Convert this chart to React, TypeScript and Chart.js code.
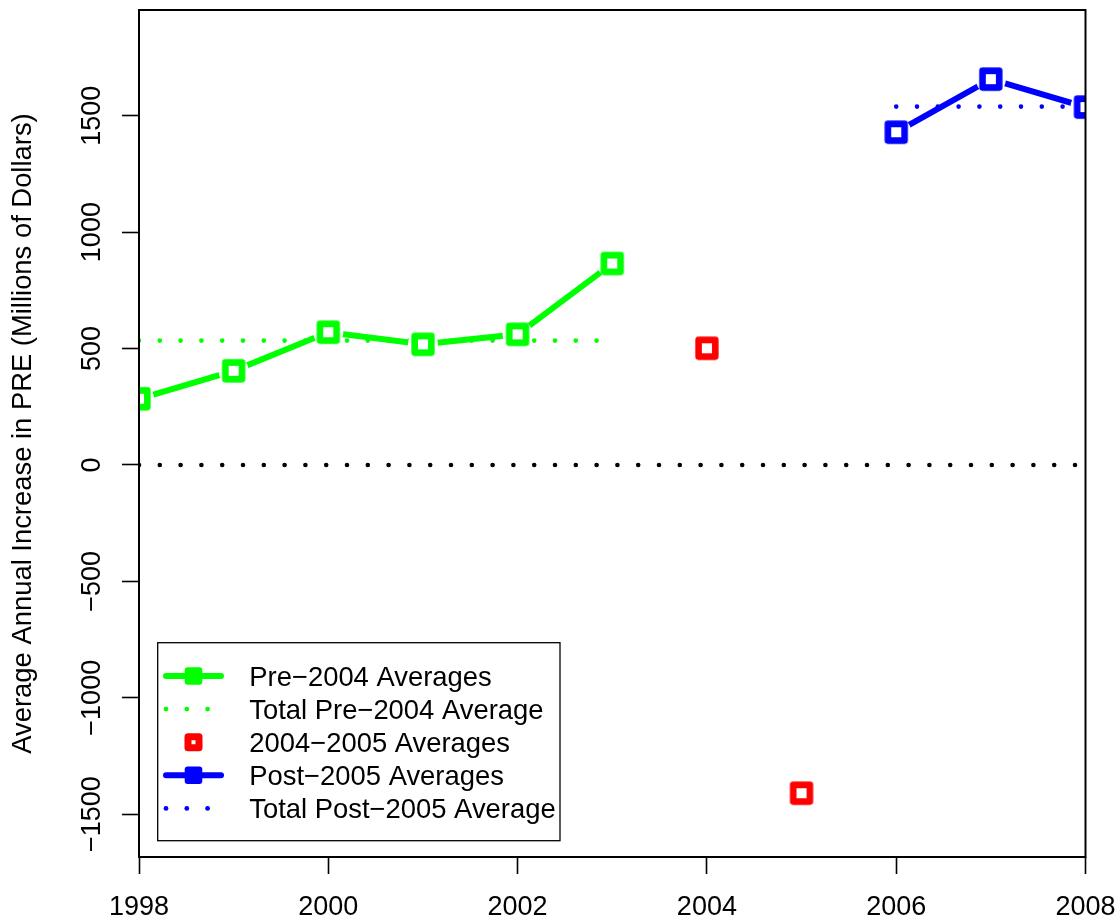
import React, { useEffect, useRef } from "react";
import { Chart, registerables } from "chart.js";

Chart.register(...registerables);

// ---------------- data ----------------
const preYears = [1998, 1999, 2000, 2001, 2002, 2003];
const preValues = [284, 404, 570, 518, 561, 865];
const midYears = [2004, 2005];
const midValues = [501, -1410];
const postYears = [2006, 2007, 2008];
const postValues = [1429, 1657, 1537];
const preAverage = 534;
const postAverage = 1539;
const preAvgSpan = [1998, 2003];
const postAvgSpan = [2006, 2008];
const zeroSpan = [1998, 2008];

const xTickValues = [1998, 2000, 2002, 2004, 2006, 2008];
const yTickValues = [-1500, -1000, -500, 0, 500, 1000, 1500];
const yTickLabels = ["\u22121500", "\u22121000", "\u2212500", "0", "500", "1000", "1500"];
const yTitle = "Average Annual Increase in PRE (Millions of Dollars)";
const legendLabels = [
  "Pre\u22122004 Averages",
  "Total Pre\u22122004 Average",
  "2004\u22122005 Averages",
  "Post\u22122005 Averages",
  "Total Post\u22122005 Average",
];

const GREEN = "#00ff00";
const RED = "#ff0000";
const BLUE = "#0000ff";
const FONT = "'Liberation Sans', Arial, Helvetica, sans-serif";

function pts(xs: number[], ys: number[]) {
  return xs.map((x, i) => ({ x, y: ys[i] }));
}

function makeSquare(color: string): HTMLCanvasElement {
  const c = document.createElement("canvas");
  c.width = 26;
  c.height = 26;
  const g = c.getContext("2d")!;
  g.fillStyle = "#ffffff";
  g.fillRect(5, 5, 16, 16);
  g.strokeStyle = color;
  g.lineWidth = 6.6;
  g.lineJoin = "round";
  g.strokeRect(13 - 8.35, 13 - 8.35, 16.7, 16.7);
  return c;
}

const zeroPad = (s: any) => {
  s.paddingLeft = 0;
  s.paddingRight = 0;
  s.paddingTop = 0;
  s.paddingBottom = 0;
};

const overlayPlugin = {
  id: "overlay",
  afterDraw(chart: any) {
    const { ctx, chartArea: a, scales } = chart;
    ctx.save();
    // plot box
    ctx.strokeStyle = "#000";
    ctx.lineWidth = 2;
    ctx.strokeRect(a.left, a.top, a.right - a.left, a.bottom - a.top);

    // rotated y tick labels
    ctx.fillStyle = "#000";
    ctx.font = `27px ${FONT}`;
    ctx.textAlign = "center";
    ctx.textBaseline = "alphabetic";
    yTickValues.forEach((v, i) => {
      const py = scales.y.getPixelForValue(v);
      ctx.save();
      ctx.translate(a.left - 39.5, py);
      ctx.rotate(-Math.PI / 2);
      ctx.fillText(yTickLabels[i], 0, 0);
      ctx.restore();
    });

    // legend
    const bx = 157.7, by = 642.7, bw = 560 - 157.7, bh = 840.7 - 642.7;
    ctx.fillStyle = "#fff";
    ctx.fillRect(bx, by, bw, bh);
    ctx.strokeStyle = "#000";
    ctx.lineWidth = 1.3;
    ctx.strokeRect(bx, by, bw, bh);

    const rows = legendLabels.map((_, i) => 676 + i * 33.1);
    const symX = 193.5;
    const drawLineSym = (y: number, color: string) => {
      ctx.strokeStyle = color;
      ctx.lineWidth = 6;
      ctx.lineCap = "round";
      ctx.beginPath();
      ctx.moveTo(166, y);
      ctx.lineTo(221, y);
      ctx.stroke();
      ctx.fillStyle = color;
      ctx.beginPath();
      if ((ctx as any).roundRect) (ctx as any).roundRect(symX - 8.8, y - 8.8, 17.6, 17.6, 3);
      else ctx.rect(symX - 8.8, y - 8.8, 17.6, 17.6);
      ctx.fill();
    };
    const drawDots = (y: number, color: string) => {
      ctx.fillStyle = color;
      [166, 186.8, 207.6].forEach((dx) => {
        ctx.beginPath();
        ctx.arc(dx, y, 2.4, 0, Math.PI * 2);
        ctx.fill();
      });
    };
    drawLineSym(rows[0], GREEN);
    drawDots(rows[1], GREEN);
    ctx.strokeStyle = RED;
    ctx.lineWidth = 7;
    ctx.lineJoin = "round";
    ctx.strokeRect(symX - 5.5, rows[2] - 5.5, 11, 11);
    drawLineSym(rows[3], BLUE);
    drawDots(rows[4], BLUE);

    ctx.fillStyle = "#000";
    ctx.font = `27.4px ${FONT}`;
    ctx.textAlign = "left";
    ctx.textBaseline = "alphabetic";
    legendLabels.forEach((t, i) => ctx.fillText(t, 249.3, rows[i] + 9.8));
    ctx.restore();
  },
};

export default function App() {
  const ref = useRef<HTMLCanvasElement | null>(null);

  useEffect(() => {
    if (!ref.current) return;
    const greenSq = makeSquare(GREEN);
    const redSq = makeSquare(RED);
    const blueSq = makeSquare(BLUE);

    const dotted = (data: any[], color: string) => ({
      data,
      borderColor: color,
      borderWidth: 4.6,
      borderDash: [0.01, 20.79],
      borderCapStyle: "round",
      pointRadius: 0,
      showLine: true,
      fill: false,
      clip: 0,
      order: 12,
    });

    const chart = new Chart(ref.current, {
      type: "line",
      data: {
        datasets: [
          // markers (top)
          { data: pts(preYears, preValues), showLine: false, pointStyle: greenSq, pointRadius: 12, clip: 0, order: 2 },
          { data: pts(midYears, midValues), showLine: false, pointStyle: redSq, pointRadius: 12, clip: 0, order: 2 },
          { data: pts(postYears, postValues), showLine: false, pointStyle: blueSq, pointRadius: 12, clip: 0, order: 2 },
          // gaps around markers (type "b")
          {
            data: [...pts(preYears, preValues), ...pts(postYears, postValues)],
            showLine: false,
            pointStyle: "circle",
            pointRadius: 15,
            pointBorderWidth: 0,
            pointBackgroundColor: "#ffffff",
            pointBorderColor: "#ffffff",
            clip: 0,
            order: 8,
          },
          // connecting lines
          { data: pts(preYears, preValues), borderColor: GREEN, borderWidth: 6, pointRadius: 0, clip: 0, order: 10 },
          { data: pts(postYears, postValues), borderColor: BLUE, borderWidth: 6, pointRadius: 0, clip: 0, order: 10 },
          // dotted reference lines
          dotted(preAvgSpan.map((x) => ({ x, y: preAverage })), GREEN),
          dotted(postAvgSpan.map((x) => ({ x, y: postAverage })), BLUE),
          dotted(zeroSpan.map((x) => ({ x, y: 0 })), "#000000"),
        ] as any,
      },
      options: {
        responsive: false,
        devicePixelRatio: 1,
        animation: false,
        events: [],
        layout: { autoPadding: false, padding: { left: 0, top: 10, right: 34.5, bottom: 0 } },
        plugins: { legend: { display: false }, tooltip: { enabled: false } },
        scales: {
          x: {
            type: "linear",
            position: "bottom",
            min: 1998,
            max: 2008,
            afterBuildTicks: (s: any) => {
              s.ticks = xTickValues.map((v) => ({ value: v }));
            },
            afterFit: (s: any) => {
              s.height = 67;
              zeroPad(s);
            },
            ticks: {
              callback: (v: any) => String(v),
              font: { family: FONT, size: 27 },
              color: "#000",
              padding: 17,
              maxRotation: 0,
              minRotation: 0,
              autoSkip: false,
            },
            grid: { drawOnChartArea: false, drawTicks: true, tickLength: 17, tickColor: "#000", tickWidth: 1.6, color: "#000" },
            border: { display: false },
          },
          y: {
            type: "linear",
            position: "left",
            min: -1684,
            max: 1954,
            afterBuildTicks: (s: any) => {
              s.ticks = yTickValues.map((v) => ({ value: v }));
            },
            afterFit: (s: any) => {
              s.width = 139;
              zeroPad(s);
            },
            ticks: { display: false },
            grid: { drawOnChartArea: false, drawTicks: true, tickLength: 17, tickColor: "#000", tickWidth: 1.6, color: "#000" },
            border: { display: false },
            title: {
              display: true,
              text: yTitle,
              color: "#000",
              font: { family: FONT, size: 27.4 },
              padding: { top: 7.3, bottom: 0 },
            },
          },
        },
      } as any,
      plugins: [overlayPlugin],
    });
    return () => chart.destroy();
  }, []);

  return (
    <div style={{ position: "absolute", left: 0, top: 0, width: 1120, height: 924, background: "#fff" }}>
      <canvas ref={ref} width={1120} height={924} style={{ display: "block" }} />
    </div>
  );
}
